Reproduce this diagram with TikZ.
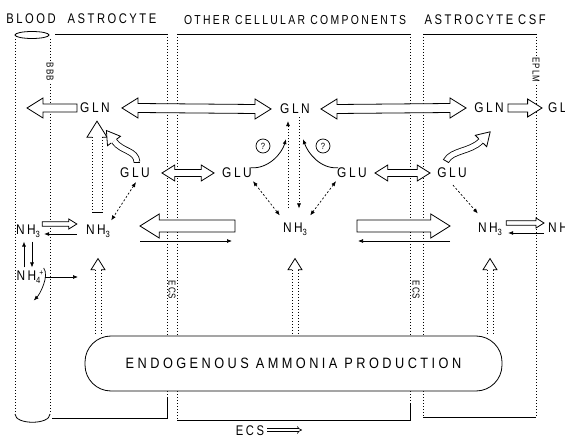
\documentclass[tikz,border=0pt]{standalone}
\usepackage{fontspec}
\setmainfont{Liberation Sans}[FakeStretch=0.85]
\newfontfamily\hdrfont{Liberation Sans}[FakeStretch=0.8,LetterSpace=18]
\newfontfamily\vfont{Liberation Sans}[FakeStretch=0.8,LetterSpace=10]
\newfontfamily\lblfont{Liberation Sans}[FakeStretch=0.85,LetterSpace=18]
\newfontfamily\widefont{Liberation Sans}[FakeStretch=0.85,LetterSpace=23]
\usetikzlibrary{arrows.meta,calc}

\tikzset{
 hollow/.style={draw=black, line width=0.8pt, fill=white, line join=miter},
 dots/.style={line width=0.6pt, dash pattern=on 1pt off 2pt},
 bline/.style={line width=0.8pt},
 hdr/.style={font=\hdrfont\fontsize{14}{14}\selectfont, inner sep=1pt},
 lbl/.style={font=\lblfont\fontsize{14}{14}\selectfont, inner sep=1pt},
 vlbl/.style={font=\vfont\fontsize{10}{10}\selectfont, rotate=-90, inner sep=1pt},
 thinarr/.style={line width=0.7pt, -{Latex[length=5pt,width=4pt]}},
 dsh/.style={line width=0.7pt, dash pattern=on 2pt off 2pt, {Latex[length=5pt,width=4pt]}-{Latex[length=5pt,width=4pt]}},
 dshs/.style={line width=0.7pt, dash pattern=on 2pt off 2pt, -{Latex[length=5pt,width=4pt]}},
 dotarr/.style={dots, -{Latex[length=5pt,width=4pt]}},
}

\newcommand\nh[1]{NH\raisebox{-3pt}{\fontsize{9}{9}\selectfont #1}}

% double hollow arrow, p1 = left tip, p2 = right tip
\newcommand\DArr[4]{\draw[hollow] let \p1=(#1), \p2=(#2) in (\x1,\y1) -- ({\x1+1.6*#4pt},{\y1+#4pt}) -- ({\x1+1.6*#4pt},{\y1+#3pt}) -- ({\x2-1.6*#4pt},{\y2+#3pt}) -- ({\x2-1.6*#4pt},{\y2+#4pt}) -- (\x2,\y2) -- ({\x2-1.6*#4pt},{\y2-#4pt}) -- ({\x2-1.6*#4pt},{\y2-#3pt}) -- ({\x1+1.6*#4pt},{\y1-#3pt}) -- ({\x1+1.6*#4pt},{\y1-#4pt}) -- cycle;}
% right-pointing hollow arrow, p1 tail, p2 tip
\newcommand\RArr[4]{\draw[hollow] let \p1=(#1), \p2=(#2) in ({\x1},{\y1+#3pt}) -- ({\x2-1.6*#4pt},{\y2+#3pt}) -- ({\x2-1.6*#4pt},{\y2+#4pt}) -- (\x2,\y2) -- ({\x2-1.6*#4pt},{\y2-#4pt}) -- ({\x2-1.6*#4pt},{\y2-#3pt}) -- ({\x1},{\y1-#3pt}) -- cycle;}
% left-pointing hollow arrow, p1 tip (left), p2 tail (right)
\newcommand\LArr[4]{\draw[hollow] let \p1=(#1), \p2=(#2) in (\x1,\y1) -- ({\x1+1.6*#4pt},{\y1+#4pt}) -- ({\x1+1.6*#4pt},{\y1+#3pt}) -- ({\x2},{\y2+#3pt}) -- ({\x2},{\y2-#3pt}) -- ({\x1+1.6*#4pt},{\y1-#3pt}) -- ({\x1+1.6*#4pt},{\y1-#4pt}) -- cycle;}
% upward hollow arrow with dotted stem, p1 tail (bottom), p2 tip (top)
\newcommand\UArrD[4]{%
 \draw[line width=0.8pt, line join=miter] let \p1=(#1), \p2=(#2) in ({\x2-#3pt},{\y2-1.6*#4pt}) -- ({\x2-#4pt},{\y2-1.6*#4pt}) -- (\x2,\y2) -- ({\x2+#4pt},{\y2-1.6*#4pt}) -- ({\x2+#3pt},{\y2-1.6*#4pt});
 \draw[dots] let \p1=(#1), \p2=(#2) in ({\x2-#3pt},{\y2-1.6*#4pt}) -- ({\x1-#3pt},\y1) ({\x2+#3pt},{\y2-1.6*#4pt}) -- ({\x1+#3pt},\y1);}

\begin{document}
\begin{tikzpicture}[x=1pt,y=-1pt]
\useasboundingbox (0,0) rectangle (565,438);

% ---------- headers
\node[hdr] (hBlood) at (31,19) {BLOOD};
\node[hdr] (hAstL) at (112,19) {ASTROCYTE};
\node[hdr, font=\hdrfont\fontsize{13}{13}\selectfont] (hOther) at (295,20) {OTHER CELLULAR COMPONENTS};
\node[hdr] (hAstR) at (469,20) {ASTROCYTE};
\node[hdr, anchor=west] (hCSF) at (517,20) {CSF};

% ---------- compartments
\draw[bline] (32,35) ellipse [x radius=17, y radius=3.5];
\draw[dots] (15,39) -- (15,414);
\draw[dots] (50,39) -- (50,414);
\draw[bline] (15,414) .. controls (15,425) and (50,425) .. (50,414);
\draw[bline] (55,34) -- (167,34);
\draw[dots] (167,34) -- (167,400);
\draw[bline] (167,398) -- (167,418) -- (52,418);
\draw[bline] (177,34) -- (410,34);
\draw[dots] (177,34) -- (177,420);
\draw[dots] (410,34) -- (410,404);
\draw[bline] (177,420) -- (410,420) -- (410,404);
\draw[bline] (423,34) -- (536,34);
\draw[dots] (423,34) -- (423,417);
\draw[dots] (536,34) -- (536,417);
\draw[bline] (423,417) -- (536,417);

\node[vlbl, fill=white] (bbb) at (50,72) {BBB};
\node[vlbl, fill=white] (eplm) at (536,70) {EPLM};
\node[vlbl] (ecsL) at (172,290) {ECS};
\node[vlbl] (ecsR) at (416,290) {ECS};

% ---------- production box
\node[draw, line width=0.8pt, fill=white, rounded corners=26pt, minimum width=417pt, minimum height=55pt, inner sep=0pt,
      font=\widefont\fontsize{15}{15}\selectfont] (prod) at (293.5,363.5) {ENDOGENOUS AMMONIA PRODUCTION};

% ---------- metabolite labels
\node[lbl] (glnL) at (95,108) {GLN};
\node[lbl] (glnC) at (295,109) {GLN};
\node[lbl] (glnR) at (489,108) {GLN};
\node[lbl, anchor=west] (glnX) at (547,108) {GLN};
\node[lbl] (gluL) at (135,173) {GLU};
\node[lbl] (gluCL) at (237,173) {GLU};
\node[lbl] (gluCR) at (352,173) {GLU};
\node[lbl] (gluR) at (452,173) {GLU};
\node[lbl] (nh3B) at (28,231) {\nh{3}};
\node[lbl] (nh3A) at (98,231) {\nh{3}};
\node[lbl] (nh3C) at (295,229) {\nh{3}};
\node[lbl] (nh3R) at (490,229) {\nh{3}};
\node[lbl, anchor=west] (nh3X) at (547,229) {\nh{3}};
\node[lbl] (nh4) at (30,277) {NH\raisebox{-3pt}{\fontsize{9}{9}\selectfont 4}\kern-1pt\raisebox{5pt}{\fontsize{8}{8}\selectfont +}};

% ---------- free end points
\coordinate (bloodTip) at (27,108);
\coordinate (bigLtip) at (140,226);
\coordinate (bigLtail) at (235,226);
\coordinate (bigRtail) at (357,226);
\coordinate (bigRtip) at (450,226);
\coordinate (nh4end) at (78,277);

% ---------- GLN row
\LArr{bloodTip}{$(glnL.west)+(-2,0)$}{4}{10}
\DArr{$(glnL.east)+(11,0)$}{$(glnC.west)+(-8,0)$}{4.5}{10}
\DArr{$(glnC.east)+(10,0)$}{$(glnR.west)+(-7,0)$}{4.5}{10}
\RArr{$(glnR.east)+(3,0)$}{$(glnX.west)+(-5,0)$}{4}{9}

% ---------- GLU row
\DArr{$(gluL.east)+(11,0)$}{$(gluCL.west)+(-7,0)$}{3.5}{8}
\DArr{$(gluCR.east)+(7,0)$}{$(gluR.west)+(-6,0)$}{3.5}{8}

% ---------- NH3 row
\LArr{bigLtip}{bigLtail}{6}{12}
\draw[thinarr] ($(bigLtip)+(0,15)$) -- ($(bigLtail)+(-3,15)$);
\RArr{bigRtail}{bigRtip}{6}{12}
\draw[thinarr] ($(bigRtip)+(0,15)$) -- ($(bigRtail)+(1,15)$);

% blood / astrocyte equilibrium
\RArr{$(nh3B.east)+(1,-7)$}{$(nh3A.west)+(-8,-7)$}{2.2}{5}
\draw[thinarr] ($(nh3A.west)+(-8,3)$) -- ($(nh3B.east)+(3,3)$);
% astrocyte / CSF equilibrium
\RArr{$(nh3R.east)+(3,-6)$}{$(nh3X.west)+(-3,-6)$}{2.2}{5}
\draw[thinarr] ($(nh3X.west)+(-3,4)$) -- ($(nh3R.east)+(5,4)$);

% NH3 <-> NH4+
\draw[thinarr] ($(nh4.north)+(-6,-2)$) -- ($(nh3B.south)+(-4,3)$);
\draw[thinarr] ($(nh3B.south)+(4,3)$) -- ($(nh4.north)+(2,-2)$);
\draw[thinarr] (nh4.east) -- (nh4end);
\draw[thinarr] ($(nh4.east)+(-1,-9)$) .. controls +(6,8) and +(6,-6) .. ($(nh4.south east)+(-11,16)$);

% ---------- dashed GLU -> NH3
\draw[dsh] ($(gluL.south)+(1,3)$) -- ($(nh3A.north east)+(0,-3)$);
\draw[dsh] ($(gluCL.south east)+(0,2)$) -- ($(nh3C.north west)+(-2,-6)$);
\draw[dsh] ($(gluCR.south west)+(0,2)$) -- ($(nh3C.north east)+(2,-6)$);
\draw[dshs] ($(gluR.south)+(1,6)$) -- ($(nh3R.north west)+(1,-8)$);

% ---------- dotted GLN <-> NH3 in other cells
\draw[dotarr] ($(nh3C.north)+(-7,-13)$) -- ($(glnC.south)+(-7,6)$);
\draw[dotarr] ($(glnC.south)+(4,2)$) -- ($(nh3C.north)+(4,-13)$);

% ---------- curved GLU -> GLN with circled ?
\draw[line width=0.8pt, -{Latex[length=5pt,width=4pt]}] ($(gluCL.north east)+(-2,1)$) .. controls +(18,1) and +(-4,14) .. ($(glnC.south)+(-9,24)$);
\draw[line width=0.8pt, -{Latex[length=5pt,width=4pt]}] ($(gluCR.north west)+(2,1)$) .. controls +(-18,1) and +(5,14) .. ($(glnC.south)+(8,24)$);
\node[draw, circle, line width=0.7pt, inner sep=0pt, minimum size=14pt, font=\fontsize{9}{9}\selectfont] (qL) at (263,146) {?};
\node[draw, circle, line width=0.7pt, inner sep=0pt, minimum size=14pt, font=\fontsize{9}{9}\selectfont] (qR) at (323,146) {?};

% ---------- astrocyte glutamine synthesis (hollow arrows)
\UArrD{$(nh3A.north)+(-1,-11)$}{$(nh3A.north |- glnL.south)+(-1,7)$}{5}{10}
\draw[bline] ($(nh3A.north)+(-6,-11)$) -- ($(nh3A.north)+(4,-11)$);
% left curved hollow arrow GLU -> GLN
\draw[line width=0.8pt, double=white, double distance=5pt] (137,162) .. controls (136,150) and (122,152) .. (114,141);
\filldraw[fill=white, line width=0.8pt, line join=miter] (116.7,139.1) -- (120.5,136.3) -- (106.4,130.5) -- (107.5,145.7) -- (111.3,142.9);
\draw[bline] (133.7,162) -- (140.3,162);
% right curved hollow arrow GLU -> GLN
\draw[line width=0.8pt, double=white, double distance=5pt] (446,161) .. controls (452,150) and (470,152) .. (481,141);
\filldraw[fill=white, line width=0.8pt, line join=miter] (483.3,143.3) -- (486.7,146.7) -- (490.2,131.8) -- (475.3,135.3) -- (478.7,138.7);
\draw[bline] (448.9,162.6) -- (443.1,159.4);

% ---------- production -> NH3 arrows
\UArrD{nh3A.south |- prod.north}{$(nh3A.south)+(0,20)$}{3}{7}
\UArrD{nh3C.south |- prod.north}{$(nh3C.south)+(0,22)$}{3}{7}
\UArrD{nh3R.south |- prod.north}{$(nh3R.south)+(0,22)$}{3}{7}

% ---------- bottom ECS flow
\node[hdr] (ecsB) at (250,431) {ECS};
\coordinate (ecsEnd) at (302,430);
\draw[line width=0.6pt, double, double distance=2pt, -{Implies}] ($(ecsB.east)+(2,-1)$) -- (ecsEnd);
\end{tikzpicture}
\end{document}
